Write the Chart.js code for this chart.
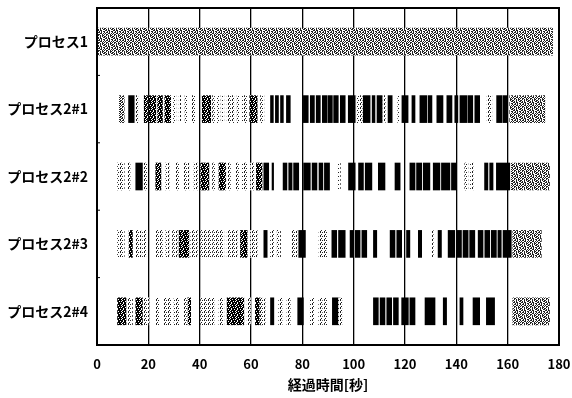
<!DOCTYPE html>
<html lang="ja">
<head>
  <meta charset="UTF-8">
  <title>経過時間</title>
  <style>
    body { margin: 0; background: #fff; }
    .chart-container { position: relative; width: 572px; height: 398px; }
  </style>
</head>
<body>
  <div class="chart-container">
    <canvas id="timeChart"></canvas>
  </div>

  <script src="https://cdn.jsdelivr.net/npm/chart.js"></script>
  <script>
    // 行ラベルと目盛
    const categories = ['プロセス1', 'プロセス2#1', 'プロセス2#2', 'プロセス2#3', 'プロセス2#4'];
    const xTicks = [0, 20, 40, 60, 80, 100, 120, 140, 160, 180];

    // 各行の区間 [開始, 終了] (秒)
    // 灰色 (中間の網かけ)
    const graySegs = [
      [[0.5, 177.5]],
      [[8.7, 10.6], [160.8, 174.5]],
      [[161.4, 176.3]],
      [[162, 173.1]],
      [[162, 176.3]]
    ];
    // 濃い網かけ
    const darkSegs = [
      [],
      [[18.4, 19.7], [20.3, 22.9], [23.6, 25.5], [26.4, 28.7], [41, 44.3], [59.5, 62.4]],
      [[22.9, 24.9], [40.4, 43.6], [47.5, 50.1], [62.1, 64.3]],
      [[12.5, 13.8], [32, 35.8], [55.9, 58.5]],
      [[8, 11.3], [15.1, 17.7], [35.2, 36.5], [50.7, 57.2], [61.7, 64.3]]
    ];
    // 薄い点
    const lightSegs = [
      [],
      [[15.1, 15.9], [29.8, 30.7], [32, 32.6], [34.3, 35.2], [37.1, 38.1], [45, 45.8], [46.9, 47.9],
       [48.8, 49.4], [50.7, 53.3], [54.6, 55.3], [56.6, 58.5], [63.7, 65], [101.4, 103.3],
       [111.5, 112.3], [117.2, 117.8], [152, 153.8]],
      [[8, 10.6], [11.9, 12.9], [18.4, 19.7], [26.8, 28.1], [30.7, 32], [33.9, 35.8], [37.8, 39.1],
       [45, 46.2], [50.7, 52], [54, 55.3], [56.6, 58.5], [59.8, 61.1], [94, 94.8], [143.3, 144.5],
       [145.5, 146.5]],
      [[8, 10.6], [15.1, 17.1], [17.7, 19], [22.9, 25.5], [26.8, 28.1], [29.4, 31.3], [36.5, 39.1],
       [40.4, 44.3], [45, 49.4], [50.7, 54.6], [59.8, 62.4], [67.6, 68.8], [70.2, 71.5], [76, 77.9],
       [86.5, 89.5], [130.5, 131]],
      [[11.9, 13.8], [18.4, 20.3], [22.9, 24.2], [26.1, 28.7], [30, 32], [33.9, 35.2], [40.4, 45.6],
       [47.5, 49.4], [58.5, 59.8], [63.5, 65.5], [70.8, 72.1], [74, 75.3], [83.1, 84.4], [86.4, 87.8],
       [88.6, 89.6], [94.1, 95.4]]
    ];
    // 黒
    const blackSegs = [
      [],
      [[12.3, 14.5], [67.6, 68.7], [69.5, 70.7], [71.5, 72.6], [73.8, 75.3], [80.4, 82.3], [83.1, 84.7],
       [85.4, 87], [87.8, 89.7], [90.1, 91.7], [92.2, 94], [94.8, 96.7], [97.9, 100.6], [103.7, 106.4],
       [107.2, 108.3], [109.1, 111.1], [113.4, 115], [118.8, 121.2], [122.7, 123.9], [125.8, 128.5],
       [129, 130.5], [132.4, 134.8], [136.3, 138.3], [139.4, 140.6], [141.4, 144.1], [144.5, 146.4],
       [147.2, 149.1], [155.7, 157.7], [158.1, 160]],
      [[15.1, 17.7], [65, 66.9], [68.2, 68.8], [72.5, 74], [74.7, 76], [76.6, 78.6], [80.5, 83.1],
       [83.8, 85.7], [86.5, 88], [88.6, 90.6], [98, 100.6], [101.9, 103.8], [104.5, 107.1],
       [109.6, 112.2], [116.1, 118.1], [121.9, 123.9], [124.5, 126.5], [127.1, 129.7], [131, 133.6],
       [134.2, 137.5], [138.1, 140.1], [151, 152.3], [153, 154.3], [155.6, 160.8]],
      [[65, 66.3], [78.6, 81.2], [91.5, 93.4], [94.1, 96.7], [98.6, 99.9], [100.6, 102.5],
       [103.2, 105.1], [107.7, 109], [114.2, 116.1], [116.8, 118.7], [120.6, 121.9], [125.2, 126.5],
       [132.9, 134.2], [136.8, 139.4], [140.1, 142], [142.6, 144.6], [145.2, 147.2], [148.5, 150.4],
       [151.1, 153], [153.6, 155.6], [156.2, 157.5], [158.2, 161.4]],
      [[67.6, 68.9], [78.2, 80.4], [91.7, 94.7], [107.7, 109.6], [110.3, 112.2], [112.9, 114.8],
       [115.5, 117.4], [118.7, 121.3], [121.9, 123.9], [127.8, 131.7], [134.9, 136.2],
       [141.4, 142.6], [146.5, 149.1], [151.7, 154.9]]
    ];

    const ctx = document.getElementById('timeChart').getContext('2d');

    // 網かけパターン
    function makePattern(rows, color) {
      const c = document.createElement('canvas');
      c.width = rows[0].length;
      c.height = rows.length;
      const g = c.getContext('2d');
      g.fillStyle = '#fff';
      g.fillRect(0, 0, c.width, c.height);
      g.fillStyle = color;
      rows.forEach((r, y) => {
        [...r].forEach((ch, x) => { if (ch === '#') g.fillRect(x, y, 1, 1); });
      });
      return ctx.createPattern(c, 'repeat');
    }

    const grayPattern = makePattern([
      '#.##.#..',
      '.#..##.#',
      '#.##..#.',
      '..#.#.##',
      '##..#.#.',
      '#.#.#..#',
      '.##.##..',
      '#..#.#.#'
    ], '#222');
    const darkPattern = makePattern([
      '##.###',
      '#.###.',
      '###.##',
      '.##.##',
      '##.###',
      '#.##.#'
    ], '#000');
    const lightPattern = makePattern([
      '#.#.',
      '....',
      '.#..',
      '#...'
    ], '#222');

    function toData(segs) {
      const out = [];
      segs.forEach((row, i) => row.forEach(s => out.push({ y: categories[i], x: s })));
      return out;
    }

    function ds(segs, fill) {
      return {
        data: toData(segs),
        backgroundColor: fill,
        borderWidth: 0,
        barThickness: 27,
        grouped: false
      };
    }

    // 枠線と左軸の小さな目盛
    const framePlugin = {
      id: 'frame',
      afterDraw(chart) {
        const a = chart.chartArea;
        const c = chart.ctx;
        const y = chart.scales.y;
        c.save();
        c.strokeStyle = '#000';
        c.lineWidth = 2;
        c.strokeRect(a.left, a.top, a.right - a.left, a.bottom - a.top);
        c.lineWidth = 1;
        for (let i = 1; i < categories.length; i++) {
          const py = (y.getPixelForValue(i - 1) + y.getPixelForValue(i)) / 2;
          c.beginPath();
          c.moveTo(a.left, py);
          c.lineTo(a.left + 3, py);
          c.stroke();
        }
        c.restore();
      }
    };

    const boldFont = size => ({ family: '"Noto Sans CJK JP", sans-serif', size: size, weight: 'bold' });

    new Chart(ctx, {
      type: 'bar',
      data: {
        labels: categories,
        datasets: [
          ds(lightSegs, lightPattern),
          ds(graySegs, grayPattern),
          ds(darkSegs, darkPattern),
          ds(blackSegs, '#000')
        ]
      },
      options: {
        indexAxis: 'y',
        responsive: true,
        maintainAspectRatio: false,
        animation: false,
        layout: { padding: { left: 0, right: 13, top: 8, bottom: 0 } },
        plugins: {
          legend: { display: false },
          tooltip: { enabled: false }
        },
        scales: {
          x: {
            type: 'linear',
            min: 0,
            max: 180,
            afterBuildTicks: s => { s.ticks = xTicks.map(v => ({ value: v })); },
            afterFit: s => { s.height = 53; s.paddingLeft = 0; s.paddingRight = 0; },
            grid: { color: '#000', lineWidth: 1.3, drawTicks: false },
            border: { display: true, color: '#000', width: 2 },
            ticks: { padding: 11, color: '#000', font: boldFont(13) },
            title: {
              display: true,
              text: '経過時間[秒]',
              color: '#000',
              padding: { top: 0, bottom: 5 },
              font: boldFont(14)
            }
          },
          y: {
            type: 'category',
            afterFit: s => { s.width = 97; s.paddingTop = 0; s.paddingBottom = 0; },
            grid: { display: false, drawTicks: false },
            border: { display: true, color: '#000', width: 2 },
            ticks: { padding: 9, color: '#000', font: boldFont(14) }
          }
        }
      },
      plugins: [framePlugin]
    });
  </script>
</body>
</html>
